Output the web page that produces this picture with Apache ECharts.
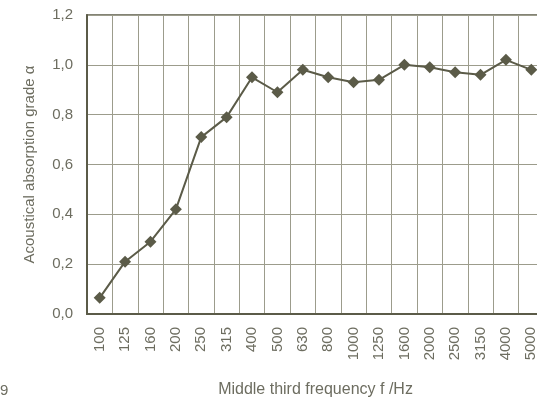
<!DOCTYPE html>
<html>
<head>
<meta charset="utf-8">
<script src="https://cdn.jsdelivr.net/npm/echarts@6/dist/echarts.min.js"></script>
<style>
  html, body { margin: 0; padding: 0; background: #fff; overflow: hidden; }
  #chart { width: 544px; height: 403px; }
</style>
</head>
<body>
<div id="chart"></div>
<script>
var frequencies = ['100', '125', '160', '200', '250', '315', '400', '500', '630', '800',
                   '1000', '1250', '1600', '2000', '2500', '3150', '4000', '5000'];
var absorption = [0.065, 0.21, 0.29, 0.42, 0.71, 0.79, 0.95, 0.89, 0.98, 0.95,
                  0.93, 0.94, 1.0, 0.99, 0.97, 0.96, 1.02, 0.98];

var ink = '#5b5b48';
var textColor = '#6d6d60';
var gridColor = '#9c9c8c';

// the scanned chart is cut off at the right edge, so the canvas is a bit wider than the window
var chart = echarts.init(document.getElementById('chart'));
chart.setOption({
    animation: false,
    grid: {
        left: 87, right: 0, top: 15, bottom: 89,
        show: true,
        borderColor: ink,
        borderWidth: 1.5
    },
    xAxis: {
        type: 'category',
        data: frequencies,
        boundaryGap: true,
        name: 'Middle third frequency f /Hz',
        nameLocation: 'middle',
        nameGap: 68,
        nameTextStyle: { fontFamily: 'Liberation Sans', fontSize: 16, color: textColor },
        axisLine: { lineStyle: { color: ink, width: 2 } },
        axisTick: { show: false },
        axisLabel: {
            rotate: 90,
            margin: 13,
            fontFamily: 'Liberation Sans',
            fontSize: 15,
            color: textColor
        },
        splitLine: { show: true, lineStyle: { color: gridColor, width: 1 } }
    },
    yAxis: {
        type: 'value',
        min: 0, max: 1.2, interval: 0.2,
        name: 'Acoustical absorption grade α',
        nameLocation: 'middle',
        nameGap: 50,
        nameTextStyle: { fontFamily: 'Liberation Sans', fontSize: 15, color: textColor },
        axisLine: { show: true, lineStyle: { color: ink, width: 2 } },
        axisTick: { show: false },
        axisLabel: {
            margin: 14,
            fontFamily: 'Liberation Sans',
            fontSize: 15,
            color: textColor,
            formatter: function (v) { return v.toFixed(1).replace('.', ','); }
        },
        splitLine: { show: true, lineStyle: { color: gridColor, width: 1 } }
    },
    graphic: [{
        type: 'text',
        left: 0, top: 383,
        style: { text: '9', font: '15px "Liberation Sans"', fill: textColor }
    }],
    series: [{
        type: 'line',
        data: absorption,
        symbol: 'diamond',
        symbolSize: 12,
        lineStyle: { color: ink, width: 2 },
        itemStyle: { color: ink }
    }]
});
</script>
</body>
</html>
